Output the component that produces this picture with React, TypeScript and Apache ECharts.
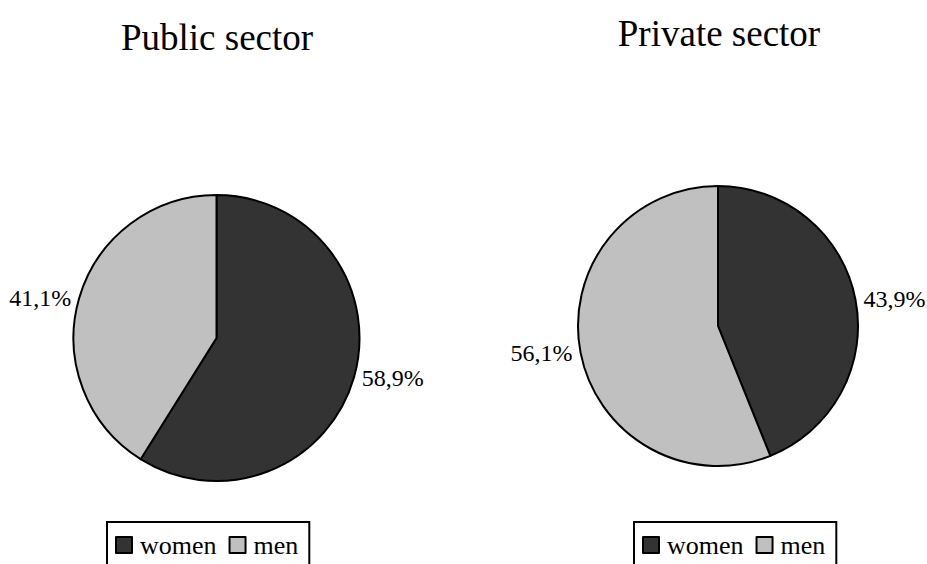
import React, { useEffect, useRef } from "react";
import * as echarts from "echarts";

const categories = ["women", "men"];
const publicValues = [58.9, 41.1];
const privateValues = [43.9, 56.1];
const titles = ["Public sector", "Private sector"];
const colors = ["#333333", "#c0c0c0"];

const FONT = "'Liberation Serif', serif";

export default function App() {
  const ref = useRef<HTMLDivElement>(null);
  useEffect(() => {
    document.body.style.margin = "0";
    const chart = echarts.init(ref.current!, null, { renderer: "svg" });
    const mkData = (vals: number[]) =>
      categories.map((c, i) => ({ name: c, value: vals[i], itemStyle: { color: colors[i] } }));
    const mkSeries = (vals: number[], center: [number, number], r: number) => ({
      type: "pie",
      center,
      radius: r,
      startAngle: 90,
      clockwise: true,
      data: mkData(vals),
      itemStyle: { borderColor: "#000", borderWidth: 2 },
      label: {
        show: true,
        position: "outside",
        formatter: (p: any) => p.value.toFixed(1).replace(".", ",") + "%",
        fontFamily: FONT,
        fontSize: 24,
        color: "#000",
        overflow: "none",
      },
      labelLine: { show: false, length: 2, length2: 1 },
      emphasis: { disabled: true },
    });
    const legendCommon = {
      data: categories,
      orient: "horizontal",
      icon: "rect",
      itemWidth: 16,
      itemHeight: 16,
      itemGap: 12,
      borderColor: "#000",
      borderWidth: 2,
      padding: [10, 11, 30, 8],
      textStyle: { fontFamily: FONT, fontSize: 26, color: "#000", padding: [0, 0, 0, 3] },
      itemStyle: { borderColor: "#000", borderWidth: 2 },
      selectedMode: false,
    };
    const titleStyle = { fontFamily: FONT, fontSize: 37, fontWeight: "normal", color: "#000" };
    chart.setOption({
      animation: false,
      title: [
        { text: titles[0], left: 217, top: 19, padding: 0, textAlign: "center", textStyle: titleStyle },
        { text: titles[1], left: 719, top: 15, padding: 0, textAlign: "center", textStyle: titleStyle },
      ],
      legend: [
        { ...legendCommon, left: 107, top: 522 },
        { ...legendCommon, left: 634, top: 522 },
      ],
      series: [
        mkSeries(publicValues, [216.5, 338], 143),
        mkSeries(privateValues, [718, 326], 140),
      ],
    });
    return () => chart.dispose();
  }, []);
  return <div ref={ref} style={{ width: 927, height: 564, background: "#fff" }} />;
}
